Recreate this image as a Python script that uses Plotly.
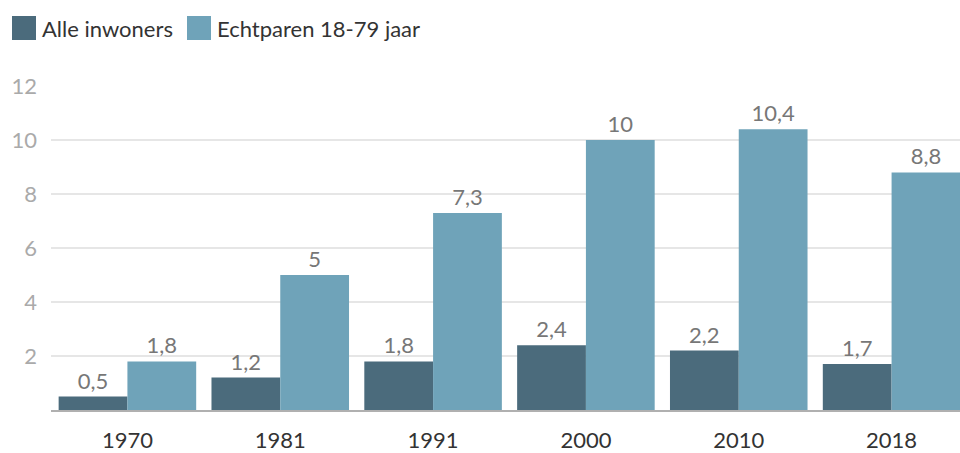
import plotly.graph_objects as go

years = ["1970", "1981", "1991", "2000", "2010", "2018"]
alle_inwoners = [0.5, 1.2, 1.8, 2.4, 2.2, 1.7]
echtparen = [1.8, 5, 7.3, 10, 10.4, 8.8]
series_names = ["Alle inwoners", "Echtparen 18-79 jaar"]
y_ticks = [2, 4, 6, 8, 10, 12]

c_dark = "#4b6b7c"
c_light = "#6fa3b9"

def fmt(v):
    return (f"{v:g}").replace(".", ",")

fig = go.Figure()
for name, vals, col in [(series_names[0], alle_inwoners, c_dark),
                        (series_names[1], echtparen, c_light)]:
    fig.add_trace(go.Bar(
        x=years, y=vals, name=name, marker_color=col, marker_line_width=0,
        text=[fmt(v) for v in vals], textposition="outside",
        textfont=dict(family="Lato", size=22, color="#777777"),
        cliponaxis=False, showlegend=False, hoverinfo="skip",
    ))

W = 968  # plot area runs slightly past the visible right edge, as in the reference
PL, PW, PB, PH = 51, W - 51, 410, 324
legend_items = [(series_names[0], c_dark, 12), (series_names[1], c_light, 187)]
shapes = []
annotations = []
for name, col, x0 in legend_items:
    shapes.append(dict(type="rect", xref="paper", yref="paper",
                       x0=(x0 - PL) / PW, x1=(x0 + 24 - PL) / PW,
                       y0=(PB - 40) / PH, y1=(PB - 16) / PH,
                       fillcolor=col, line_width=0))
    annotations.append(dict(text=name, xref="paper", yref="paper",
                            x=(x0 + 28 - PL) / PW, y=(PB - 28) / PH,
                            xanchor="left", yanchor="middle", showarrow=False,
                            font=dict(family="Lato", size=22, color="#333333")))

fig.update_layout(
    width=W, height=453,
    margin=dict(l=51, r=0, t=86, b=43),
    paper_bgcolor="white", plot_bgcolor="white",
    barmode="group", bargap=0.1, bargroupgap=0,
    font=dict(family="Lato"),
    shapes=shapes, annotations=annotations,
    xaxis=dict(tickfont=dict(family="Lato", size=22, color="#333333"),
               showline=True, linecolor="#b0b0b0", linewidth=2,
               ticks="", showgrid=False, ticklabelstandoff=10),
    yaxis=dict(range=[0, 12], tickvals=y_ticks,
               tickfont=dict(family="Lato", size=22, color="#aaaaaa"),
               showgrid=True, gridcolor="#e6e6e6", gridwidth=2,
               zeroline=False, ticks="", ticklabelstandoff=13),
)
fig.write_html("out.html", config={"displayModeBar": False},
               post_script="document.body.style.margin='0';document.body.style.overflow='hidden';")
